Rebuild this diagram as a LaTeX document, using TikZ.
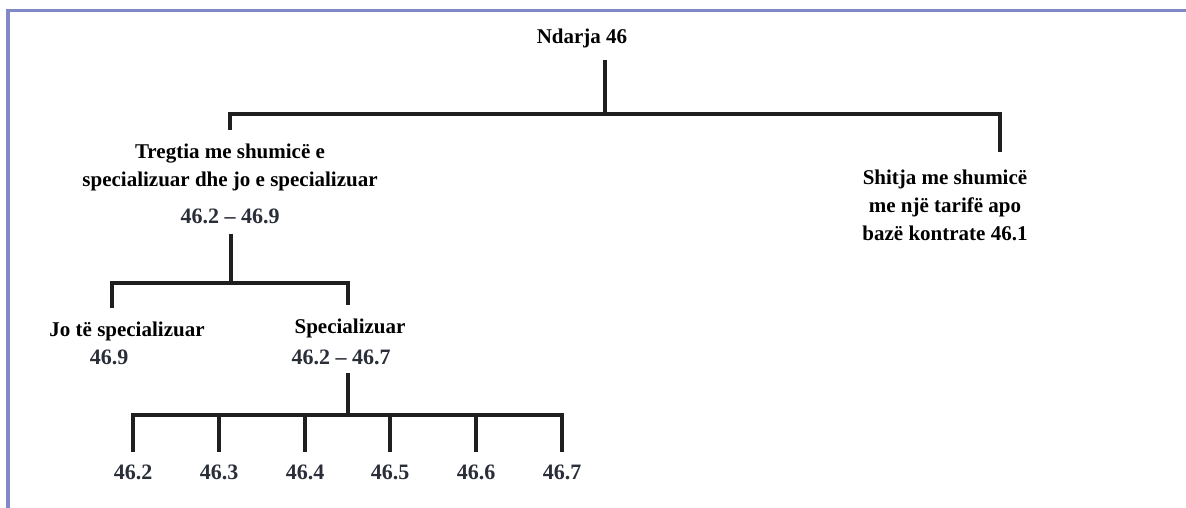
\documentclass[tikz,border=0pt]{standalone}
\usepackage{fontspec}
\setmainfont{Liberation Serif}
\usepackage{tikz}
\definecolor{framecol}{HTML}{8088C8}
\definecolor{numcol}{HTML}{2A2E38}
\tikzset{
  treenode/.style = {align=center, inner sep=0pt, text centered,
    font=\bfseries\fontsize{21}{28}\selectfont},
  lbl_t/.style = {treenode},% texte
  lbl_n/.style = {treenode, numcol,
    font=\bfseries\fontsize{22}{28}\selectfont},% numero
  bar/.style = {draw=black!88, line width=3.8pt},% trait
  frame/.style = {draw=framecol, line width=3.2pt}% cadre
}
\begin{document}
\begin{tikzpicture}[x=1pt,y=-1pt]
\useasboundingbox (0,0) rectangle (1186,508);
\draw [frame] (8,508) -- (8,10.5) -- (1186,10.5);
% racine
\node [lbl_t] (root) at (582,38) {Ndarja 46};
\coordinate (j0) at (605,114);
\coordinate (t_a) at (230,130);
\coordinate (t_b) at (1000,152);
\draw [bar] (root.south -| j0) ++(0,12) -- (j0);
\draw [bar] (t_a) |- (j0) -| (t_b);
% niveau 1
\node [lbl_t] (trg) at (230,167) {Tregtia me shumicë e\\specializuar dhe jo e specializuar};
\node [lbl_n] (trg_n) at (230,216) {46.2 – 46.9};
\node [lbl_t] (sht) at (945,205) {Shitja me shumicë\\me një tarifë apo\\bazë kontrate 46.1};
% niveau 2
\coordinate (j1) at (231,283);
\coordinate (t_c) at (112,308);
\coordinate (t_d) at (348,305);
\draw [bar] (trg_n.south -| j1) ++(0,10) -- (j1);
\draw [bar] (t_c) |- (j1) -| (t_d);
\node [lbl_t] (jo) at (127,331) {Jo të specializuar};
\node [lbl_n] (jo_n) at (109,357) {46.9};
\node [lbl_t] (spc) at (350,328) {Specializuar};
\node [lbl_n] (spc_n) at (341,357) {46.2 – 46.7};
% niveau 3
\coordinate (j2) at (348,415);
\draw [bar] (spc_n.south -| j2) ++(0,8) -- (j2);
\foreach \x/\n [count=\i] in {133/2,219/3,305/4,390/5,476/6,562/7}{
  \coordinate (t\i) at (\x,452);
  \draw [bar] (t\i) |- (j2);
  \node [lbl_n] (c\i) at (\x,472) {46.\n};
}
\end{tikzpicture}
\end{document}
